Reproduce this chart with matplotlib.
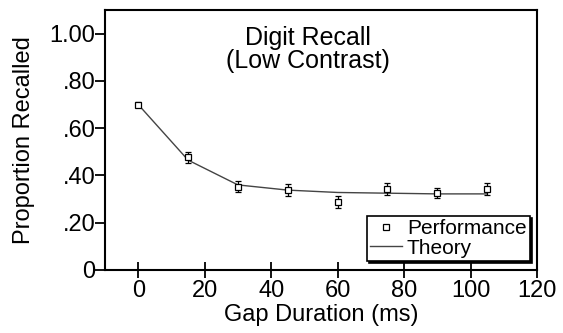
import matplotlib
matplotlib.use('Agg')
import matplotlib.pyplot as plt

gap_ms = [0, 15, 30, 45, 60, 75, 90, 105]
performance = [0.70, 0.476, 0.353, 0.339, 0.287, 0.342, 0.325, 0.343]
perf_err = [0.012, 0.025, 0.025, 0.025, 0.025, 0.025, 0.022, 0.025]
theory = [0.70, 0.465, 0.36, 0.338, 0.328, 0.325, 0.322, 0.322]

y_ticks = [0, 0.2, 0.4, 0.6, 0.8, 1.0]
y_labels = ['0', '.20', '.40', '.60', '.80', '1.00']
x_ticks = [0, 20, 40, 60, 80, 100, 120]

plt.rcParams['font.family'] = ['Liberation Sans', 'DejaVu Sans']

fig = plt.figure(figsize=(5.63, 3.33), dpi=100)
ax = fig.add_axes([105 / 563, 63 / 333, 432 / 563, 260 / 333])

theory_line, = ax.plot(gap_ms, theory, color='#444444', lw=1.0, zorder=2)
ax.errorbar(gap_ms, performance, yerr=perf_err, fmt='none', ecolor='black',
            elinewidth=0.9, capsize=2.5, capthick=0.9, zorder=3)
perf_marks, = ax.plot(gap_ms, performance, 's', ms=5, mfc='white', mec='black',
                      mew=0.9, zorder=4)

ax.set_xlim(-10, 120)
ax.set_ylim(0, 1.10)
ax.set_xticks(x_ticks)
ax.set_yticks(y_ticks)
ax.set_yticklabels(y_labels)
ax.tick_params(axis='y', direction='out', length=7, width=1.3, labelsize=17, pad=0)
ax.tick_params(axis='x', direction='inout', length=12, width=1.3, labelsize=17, pad=1)
for s in ax.spines.values():
    s.set_linewidth(1.5)

ax.set_xlabel('Gap Duration (ms)', fontsize=17)
ax.xaxis.set_label_coords(0.5, -0.13)
ax.set_ylabel('Proportion Recalled', fontsize=17)
ax.yaxis.set_label_coords(-0.162, 0.5)
ax.text(0.47, 0.94, 'Digit Recall\n(Low Contrast)', transform=ax.transAxes,
        ha='center', va='top', fontsize=18, linespacing=0.95)

leg = ax.legend([perf_marks, theory_line], ['Performance', 'Theory'],
                loc='lower right', bbox_to_anchor=(0.983, 0.035),
                fontsize=15, frameon=True, fancybox=False,
                shadow={'color': 'black', 'alpha': 1, 'ox': 1.5, 'oy': -1.5},
                edgecolor='black', borderpad=0.15, handlelength=1.5,
                handletextpad=0.25, labelspacing=0.02, borderaxespad=0)
leg.get_frame().set_linewidth(1.2)

fig.savefig('out.png', dpi=100)
